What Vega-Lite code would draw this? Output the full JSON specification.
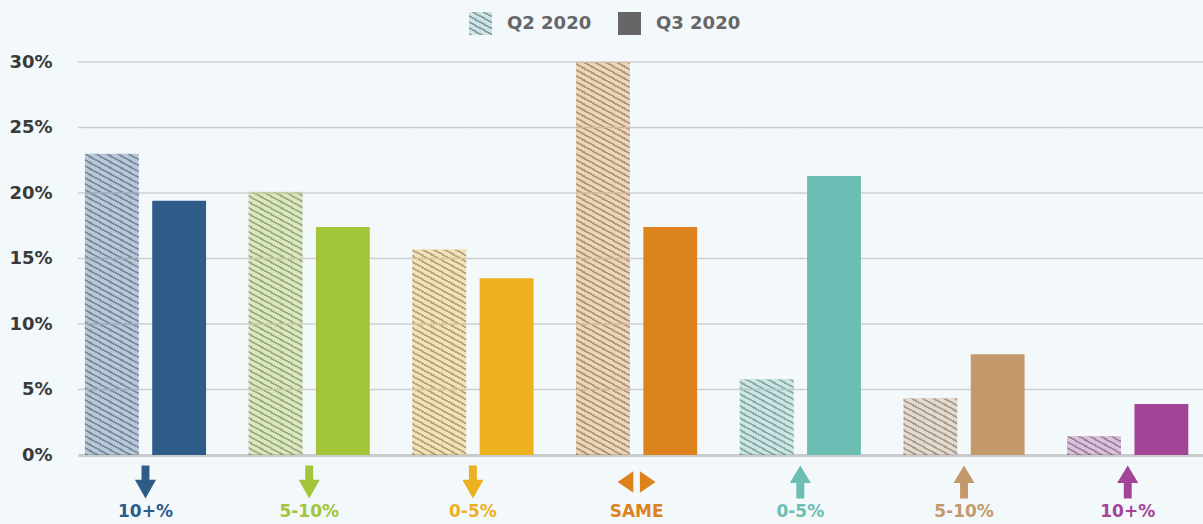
{
 "$schema": "https://vega.github.io/schema/vega-lite/v6.json",
 "width": 1125,
 "height": 393,
 "autosize": {"type": "none"},
 "padding": {"left": 78, "top": 62, "right": 0, "bottom": 69},
 "background": "#f3f8fb",
 "config": {
  "view": {"stroke": null},
  "axis": {"labelFont": "DejaVu Sans", "labelFontSize": 17, "labelFontWeight": "bold"}
 },
 "data": {"values": [
  {"cat": "d10", "quarter": "Q2 2020", "value": 23},
  {"cat": "d10", "quarter": "Q3 2020", "value": 19.4},
  {"cat": "d5", "quarter": "Q2 2020", "value": 20.1},
  {"cat": "d5", "quarter": "Q3 2020", "value": 17.4},
  {"cat": "d0", "quarter": "Q2 2020", "value": 15.7},
  {"cat": "d0", "quarter": "Q3 2020", "value": 13.5},
  {"cat": "same", "quarter": "Q2 2020", "value": 30},
  {"cat": "same", "quarter": "Q3 2020", "value": 17.4},
  {"cat": "u0", "quarter": "Q2 2020", "value": 5.8},
  {"cat": "u0", "quarter": "Q3 2020", "value": 21.3},
  {"cat": "u5", "quarter": "Q2 2020", "value": 4.35},
  {"cat": "u5", "quarter": "Q3 2020", "value": 7.7},
  {"cat": "u10", "quarter": "Q2 2020", "value": 1.45},
  {"cat": "u10", "quarter": "Q3 2020", "value": 3.9}
 ]},
 "layer": [
  {
   "transform": [{"filter": "datum.quarter == 'Q2 2020'"}],
   "mark": {"type": "bar", "fill": {"gradient": "linear", "x1": 0, "y1": 1, "x2": 0.1143, "y2": -0.5181, "stops": [
{"offset":0,"color":"#4447"},{"offset":0.0036,"color":"#4447"},{"offset":0.0036,"color":"#0000"},{"offset":0.01,"color":"#0000"},
{"offset":0.01,"color":"#4447"},{"offset":0.0136,"color":"#4447"},{"offset":0.0136,"color":"#0000"},{"offset":0.02,"color":"#0000"},
{"offset":0.02,"color":"#4447"},{"offset":0.0236,"color":"#4447"},{"offset":0.0236,"color":"#0000"},{"offset":0.03,"color":"#0000"},
{"offset":0.03,"color":"#4447"},{"offset":0.0336,"color":"#4447"},{"offset":0.0336,"color":"#0000"},{"offset":0.04,"color":"#0000"},
{"offset":0.04,"color":"#4447"},{"offset":0.0436,"color":"#4447"},{"offset":0.0436,"color":"#0000"},{"offset":0.05,"color":"#0000"},
{"offset":0.05,"color":"#4447"},{"offset":0.0536,"color":"#4447"},{"offset":0.0536,"color":"#0000"},{"offset":0.06,"color":"#0000"},
{"offset":0.06,"color":"#4447"},{"offset":0.0636,"color":"#4447"},{"offset":0.0636,"color":"#0000"},{"offset":0.07,"color":"#0000"},
{"offset":0.07,"color":"#4447"},{"offset":0.0736,"color":"#4447"},{"offset":0.0736,"color":"#0000"},{"offset":0.08,"color":"#0000"},
{"offset":0.08,"color":"#4447"},{"offset":0.0836,"color":"#4447"},{"offset":0.0836,"color":"#0000"},{"offset":0.09,"color":"#0000"},
{"offset":0.09,"color":"#4447"},{"offset":0.0936,"color":"#4447"},{"offset":0.0936,"color":"#0000"},{"offset":0.1,"color":"#0000"},
{"offset":0.1,"color":"#4447"},{"offset":0.1036,"color":"#4447"},{"offset":0.1036,"color":"#0000"},{"offset":0.11,"color":"#0000"},
{"offset":0.11,"color":"#4447"},{"offset":0.1136,"color":"#4447"},{"offset":0.1136,"color":"#0000"},{"offset":0.12,"color":"#0000"},
{"offset":0.12,"color":"#4447"},{"offset":0.1236,"color":"#4447"},{"offset":0.1236,"color":"#0000"},{"offset":0.13,"color":"#0000"},
{"offset":0.13,"color":"#4447"},{"offset":0.1336,"color":"#4447"},{"offset":0.1336,"color":"#0000"},{"offset":0.14,"color":"#0000"},
{"offset":0.14,"color":"#4447"},{"offset":0.1436,"color":"#4447"},{"offset":0.1436,"color":"#0000"},{"offset":0.15,"color":"#0000"},
{"offset":0.15,"color":"#4447"},{"offset":0.1536,"color":"#4447"},{"offset":0.1536,"color":"#0000"},{"offset":0.16,"color":"#0000"},
{"offset":0.16,"color":"#4447"},{"offset":0.1636,"color":"#4447"},{"offset":0.1636,"color":"#0000"},{"offset":0.17,"color":"#0000"},
{"offset":0.17,"color":"#4447"},{"offset":0.1736,"color":"#4447"},{"offset":0.1736,"color":"#0000"},{"offset":0.18,"color":"#0000"},
{"offset":0.18,"color":"#4447"},{"offset":0.1836,"color":"#4447"},{"offset":0.1836,"color":"#0000"},{"offset":0.19,"color":"#0000"},
{"offset":0.19,"color":"#4447"},{"offset":0.1936,"color":"#4447"},{"offset":0.1936,"color":"#0000"},{"offset":0.2,"color":"#0000"},
{"offset":0.2,"color":"#4447"},{"offset":0.2036,"color":"#4447"},{"offset":0.2036,"color":"#0000"},{"offset":0.21,"color":"#0000"},
{"offset":0.21,"color":"#4447"},{"offset":0.2136,"color":"#4447"},{"offset":0.2136,"color":"#0000"},{"offset":0.22,"color":"#0000"},
{"offset":0.22,"color":"#4447"},{"offset":0.2236,"color":"#4447"},{"offset":0.2236,"color":"#0000"},{"offset":0.23,"color":"#0000"},
{"offset":0.23,"color":"#4447"},{"offset":0.2336,"color":"#4447"},{"offset":0.2336,"color":"#0000"},{"offset":0.24,"color":"#0000"},
{"offset":0.24,"color":"#4447"},{"offset":0.2436,"color":"#4447"},{"offset":0.2436,"color":"#0000"},{"offset":0.25,"color":"#0000"},
{"offset":0.25,"color":"#4447"},{"offset":0.2536,"color":"#4447"},{"offset":0.2536,"color":"#0000"},{"offset":0.26,"color":"#0000"},
{"offset":0.26,"color":"#4447"},{"offset":0.2636,"color":"#4447"},{"offset":0.2636,"color":"#0000"},{"offset":0.27,"color":"#0000"},
{"offset":0.27,"color":"#4447"},{"offset":0.2736,"color":"#4447"},{"offset":0.2736,"color":"#0000"},{"offset":0.28,"color":"#0000"},
{"offset":0.28,"color":"#4447"},{"offset":0.2836,"color":"#4447"},{"offset":0.2836,"color":"#0000"},{"offset":0.29,"color":"#0000"},
{"offset":0.29,"color":"#4447"},{"offset":0.2936,"color":"#4447"},{"offset":0.2936,"color":"#0000"},{"offset":0.3,"color":"#0000"},
{"offset":0.3,"color":"#4447"},{"offset":0.3036,"color":"#4447"},{"offset":0.3036,"color":"#0000"},{"offset":0.31,"color":"#0000"},
{"offset":0.31,"color":"#4447"},{"offset":0.3136,"color":"#4447"},{"offset":0.3136,"color":"#0000"},{"offset":0.32,"color":"#0000"},
{"offset":0.32,"color":"#4447"},{"offset":0.3236,"color":"#4447"},{"offset":0.3236,"color":"#0000"},{"offset":0.33,"color":"#0000"},
{"offset":0.33,"color":"#4447"},{"offset":0.3336,"color":"#4447"},{"offset":0.3336,"color":"#0000"},{"offset":0.34,"color":"#0000"},
{"offset":0.34,"color":"#4447"},{"offset":0.3436,"color":"#4447"},{"offset":0.3436,"color":"#0000"},{"offset":0.35,"color":"#0000"},
{"offset":0.35,"color":"#4447"},{"offset":0.3536,"color":"#4447"},{"offset":0.3536,"color":"#0000"},{"offset":0.36,"color":"#0000"},
{"offset":0.36,"color":"#4447"},{"offset":0.3636,"color":"#4447"},{"offset":0.3636,"color":"#0000"},{"offset":0.37,"color":"#0000"},
{"offset":0.37,"color":"#4447"},{"offset":0.3736,"color":"#4447"},{"offset":0.3736,"color":"#0000"},{"offset":0.38,"color":"#0000"},
{"offset":0.38,"color":"#4447"},{"offset":0.3836,"color":"#4447"},{"offset":0.3836,"color":"#0000"},{"offset":0.39,"color":"#0000"},
{"offset":0.39,"color":"#4447"},{"offset":0.3936,"color":"#4447"},{"offset":0.3936,"color":"#0000"},{"offset":0.4,"color":"#0000"},
{"offset":0.4,"color":"#4447"},{"offset":0.4036,"color":"#4447"},{"offset":0.4036,"color":"#0000"},{"offset":0.41,"color":"#0000"},
{"offset":0.41,"color":"#4447"},{"offset":0.4136,"color":"#4447"},{"offset":0.4136,"color":"#0000"},{"offset":0.42,"color":"#0000"},
{"offset":0.42,"color":"#4447"},{"offset":0.4236,"color":"#4447"},{"offset":0.4236,"color":"#0000"},{"offset":0.43,"color":"#0000"},
{"offset":0.43,"color":"#4447"},{"offset":0.4336,"color":"#4447"},{"offset":0.4336,"color":"#0000"},{"offset":0.44,"color":"#0000"},
{"offset":0.44,"color":"#4447"},{"offset":0.4436,"color":"#4447"},{"offset":0.4436,"color":"#0000"},{"offset":0.45,"color":"#0000"},
{"offset":0.45,"color":"#4447"},{"offset":0.4536,"color":"#4447"},{"offset":0.4536,"color":"#0000"},{"offset":0.46,"color":"#0000"},
{"offset":0.46,"color":"#4447"},{"offset":0.4636,"color":"#4447"},{"offset":0.4636,"color":"#0000"},{"offset":0.47,"color":"#0000"},
{"offset":0.47,"color":"#4447"},{"offset":0.4736,"color":"#4447"},{"offset":0.4736,"color":"#0000"},{"offset":0.48,"color":"#0000"},
{"offset":0.48,"color":"#4447"},{"offset":0.4836,"color":"#4447"},{"offset":0.4836,"color":"#0000"},{"offset":0.49,"color":"#0000"},
{"offset":0.49,"color":"#4447"},{"offset":0.4936,"color":"#4447"},{"offset":0.4936,"color":"#0000"},{"offset":0.5,"color":"#0000"},
{"offset":0.5,"color":"#4447"},{"offset":0.5036,"color":"#4447"},{"offset":0.5036,"color":"#0000"},{"offset":0.51,"color":"#0000"},
{"offset":0.51,"color":"#4447"},{"offset":0.5136,"color":"#4447"},{"offset":0.5136,"color":"#0000"},{"offset":0.52,"color":"#0000"},
{"offset":0.52,"color":"#4447"},{"offset":0.5236,"color":"#4447"},{"offset":0.5236,"color":"#0000"},{"offset":0.53,"color":"#0000"},
{"offset":0.53,"color":"#4447"},{"offset":0.5336,"color":"#4447"},{"offset":0.5336,"color":"#0000"},{"offset":0.54,"color":"#0000"},
{"offset":0.54,"color":"#4447"},{"offset":0.5436,"color":"#4447"},{"offset":0.5436,"color":"#0000"},{"offset":0.55,"color":"#0000"},
{"offset":0.55,"color":"#4447"},{"offset":0.5536,"color":"#4447"},{"offset":0.5536,"color":"#0000"},{"offset":0.56,"color":"#0000"},
{"offset":0.56,"color":"#4447"},{"offset":0.5636,"color":"#4447"},{"offset":0.5636,"color":"#0000"},{"offset":0.57,"color":"#0000"},
{"offset":0.57,"color":"#4447"},{"offset":0.5736,"color":"#4447"},{"offset":0.5736,"color":"#0000"},{"offset":0.58,"color":"#0000"},
{"offset":0.58,"color":"#4447"},{"offset":0.5836,"color":"#4447"},{"offset":0.5836,"color":"#0000"},{"offset":0.59,"color":"#0000"},
{"offset":0.59,"color":"#4447"},{"offset":0.5936,"color":"#4447"},{"offset":0.5936,"color":"#0000"},{"offset":0.6,"color":"#0000"},
{"offset":0.6,"color":"#4447"},{"offset":0.6036,"color":"#4447"},{"offset":0.6036,"color":"#0000"},{"offset":0.61,"color":"#0000"},
{"offset":0.61,"color":"#4447"},{"offset":0.6136,"color":"#4447"},{"offset":0.6136,"color":"#0000"},{"offset":0.62,"color":"#0000"},
{"offset":0.62,"color":"#4447"},{"offset":0.6236,"color":"#4447"},{"offset":0.6236,"color":"#0000"},{"offset":0.63,"color":"#0000"},
{"offset":0.63,"color":"#4447"},{"offset":0.6336,"color":"#4447"},{"offset":0.6336,"color":"#0000"},{"offset":0.64,"color":"#0000"},
{"offset":0.64,"color":"#4447"},{"offset":0.6436,"color":"#4447"},{"offset":0.6436,"color":"#0000"},{"offset":0.65,"color":"#0000"},
{"offset":0.65,"color":"#4447"},{"offset":0.6536,"color":"#4447"},{"offset":0.6536,"color":"#0000"},{"offset":0.66,"color":"#0000"},
{"offset":0.66,"color":"#4447"},{"offset":0.6636,"color":"#4447"},{"offset":0.6636,"color":"#0000"},{"offset":0.67,"color":"#0000"},
{"offset":0.67,"color":"#4447"},{"offset":0.6736,"color":"#4447"},{"offset":0.6736,"color":"#0000"},{"offset":0.68,"color":"#0000"},
{"offset":0.68,"color":"#4447"},{"offset":0.6836,"color":"#4447"},{"offset":0.6836,"color":"#0000"},{"offset":0.69,"color":"#0000"},
{"offset":0.69,"color":"#4447"},{"offset":0.6936,"color":"#4447"},{"offset":0.6936,"color":"#0000"},{"offset":0.7,"color":"#0000"},
{"offset":0.7,"color":"#4447"},{"offset":0.7036,"color":"#4447"},{"offset":0.7036,"color":"#0000"},{"offset":0.71,"color":"#0000"}
   ]}},
   "encoding": {
    "x": {"field": "cat", "type": "nominal", "title": null, "scale": {"type": "band", "domain": ["d10", "d5", "d0", "same", "u0", "u5", "u10"], "paddingInner": 0.26, "paddingOuter": 0.066, "align": 0.32},
     "axis": {"title": null, "ticks": false, "grid": false, "domain": true, "domainColor": "#c8cacc", "domainWidth": 3, "labelPadding": 48, "labelAngle": 0, "labelFontSize": 17,
      "labelExpr": "datum.value == 'd10' || datum.value == 'u10' ? '10+%' : datum.value == 'd5' || datum.value == 'u5' ? '5-10%' : datum.value == 'd0' || datum.value == 'u0' ? '0-5%' : 'SAME'",
      "labelColor": {"condition": [
        {"test": "datum.value == 'd10'", "value": "#2f5b88"},
        {"test": "datum.value == 'd5'", "value": "#a2c539"},
        {"test": "datum.value == 'd0'", "value": "#edb01e"},
        {"test": "datum.value == 'same'", "value": "#dd831e"},
        {"test": "datum.value == 'u0'", "value": "#6cbdb3"},
        {"test": "datum.value == 'u5'", "value": "#c3996b"}
       ], "value": "#a24597"}}},
    "xOffset": {"field": "quarter", "type": "nominal", "scale": {"domain": ["Q2 2020", "Q3 2020"], "paddingInner": 0.2, "paddingOuter": 0}},
    "y": {"datum": 30, "type": "quantitative", "title": null, "scale": {"domain": [0, 30], "nice": false},
     "axis": {"title": null, "domain": false, "ticks": false, "grid": false, "values": [0, 5, 10, 15, 20, 25, 30], "labelExpr": "datum.value + '%'", "labelPadding": 26, "labelColor": "#3a3a3a", "labelFontSize": 18}}
   }
  },
  {
   "transform": [{"filter": "datum.quarter == 'Q2 2020'"}],
   "mark": {"type": "bar", "fill": "#f3f8fb", "stroke": "#f3f8fb", "strokeWidth": 1},
   "encoding": {
    "x": {"field": "cat", "type": "nominal", "title": null, "scale": {"type": "band", "domain": ["d10", "d5", "d0", "same", "u0", "u5", "u10"], "paddingInner": 0.26, "paddingOuter": 0.066, "align": 0.32}},
    "xOffset": {"field": "quarter", "type": "nominal", "scale": {"domain": ["Q2 2020", "Q3 2020"], "paddingInner": 0.2, "paddingOuter": 0}},
    "y": {"field": "value", "type": "quantitative", "title": null, "scale": {"domain": [0, 30], "nice": false}},
    "y2": {"datum": 30}
   }
  },
  {
   "data": {"values": [{"g": 5}, {"g": 10}, {"g": 15}, {"g": 20}, {"g": 25}, {"g": 30}]},
   "mark": {"type": "rule", "color": "#cdd0d3", "strokeWidth": 1.5},
   "encoding": {
    "y": {"field": "g", "type": "quantitative", "title": null, "scale": {"domain": [0, 30], "nice": false}}
   }
  },
  {
   "transform": [{"filter": "datum.quarter == 'Q2 2020'"}],
   "mark": {"type": "bar", "fillOpacity": 0.3},
   "encoding": {
    "x": {"field": "cat", "type": "nominal", "title": null, "scale": {"type": "band", "domain": ["d10", "d5", "d0", "same", "u0", "u5", "u10"], "paddingInner": 0.26, "paddingOuter": 0.066, "align": 0.32}},
    "xOffset": {"field": "quarter", "type": "nominal", "scale": {"domain": ["Q2 2020", "Q3 2020"], "paddingInner": 0.2, "paddingOuter": 0}},
    "y": {"field": "value", "type": "quantitative", "title": null, "scale": {"domain": [0, 30], "nice": false}},
    "color": {"field": "cat", "type": "nominal", "legend": null, "scale": {"domain": ["d10", "d5", "d0", "same", "u0", "u5", "u10"], "range": ["#2f5b88", "#a2c539", "#edb01e", "#dd831e", "#6cbdb3", "#c3996b", "#a24597"]}}
   }
  },
  {
   "transform": [{"filter": "datum.quarter == 'Q3 2020'"}],
   "mark": {"type": "bar"},
   "encoding": {
    "x": {"field": "cat", "type": "nominal", "title": null, "scale": {"type": "band", "domain": ["d10", "d5", "d0", "same", "u0", "u5", "u10"], "paddingInner": 0.26, "paddingOuter": 0.066, "align": 0.32}},
    "xOffset": {"field": "quarter", "type": "nominal", "scale": {"domain": ["Q2 2020", "Q3 2020"], "paddingInner": 0.2, "paddingOuter": 0}},
    "y": {"field": "value", "type": "quantitative", "title": null, "scale": {"domain": [0, 30], "nice": false}},
    "color": {"field": "cat", "type": "nominal", "legend": null, "scale": {"domain": ["d10", "d5", "d0", "same", "u0", "u5", "u10"], "range": ["#2f5b88", "#a2c539", "#edb01e", "#dd831e", "#6cbdb3", "#c3996b", "#a24597"]}},
    "opacity": {"field": "quarter", "type": "ordinal", "scale": {"domain": ["Q2 2020", "Q3 2020"], "range": [1, 1]},
     "legend": {"title": null, "orient": "none", "legendX": 391, "legendY": -50, "direction": "horizontal", "symbolType": "square", "symbolSize": 529, "symbolStrokeWidth": 0, "symbolOpacity": 1, "labelOffset": 15, "columnPadding": 26, "labelFontSize": 18, "labelColor": "#666666", "labelFont": "DejaVu Sans", "labelFontWeight": "bold", "padding": 0,
      "symbolFillColor": {"expr": "datum.value == 'Q2 2020' ? {gradient: 'linear', x1: 0, y1: 1, x2: 1.1016, y2: -1.0029, stops: [{offset: 0, color: '#8d9fa2'}, {offset: 0.035, color: '#8d9fa2'}, {offset: 0.035, color: '#cbe4e6'}, {offset: 0.1, color: '#cbe4e6'}, {offset: 0.1, color: '#8d9fa2'}, {offset: 0.135, color: '#8d9fa2'}, {offset: 0.135, color: '#cbe4e6'}, {offset: 0.2, color: '#cbe4e6'}, {offset: 0.2, color: '#8d9fa2'}, {offset: 0.235, color: '#8d9fa2'}, {offset: 0.235, color: '#cbe4e6'}, {offset: 0.3, color: '#cbe4e6'}, {offset: 0.3, color: '#8d9fa2'}, {offset: 0.335, color: '#8d9fa2'}, {offset: 0.335, color: '#cbe4e6'}, {offset: 0.4, color: '#cbe4e6'}, {offset: 0.4, color: '#8d9fa2'}, {offset: 0.435, color: '#8d9fa2'}, {offset: 0.435, color: '#cbe4e6'}, {offset: 0.5, color: '#cbe4e6'}, {offset: 0.5, color: '#8d9fa2'}, {offset: 0.535, color: '#8d9fa2'}, {offset: 0.535, color: '#cbe4e6'}, {offset: 0.6, color: '#cbe4e6'}]} : '#666666'"}
     }
    }
   }
  },
  {
   "transform": [{"filter": "datum.quarter == 'Q3 2020'"}],
   "mark": {"type": "point", "filled": true, "size": 1089, "opacity": 1, "strokeWidth": 0},
   "encoding": {
    "x": {"field": "cat", "type": "nominal", "title": null, "scale": {"type": "band", "domain": ["d10", "d5", "d0", "same", "u0", "u5", "u10"], "paddingInner": 0.26, "paddingOuter": 0.066, "align": 0.32}},
    "y": {"datum": -2.06, "type": "quantitative", "title": null, "scale": {"domain": [0, 30], "nice": false}},
    "color": {"field": "cat", "type": "nominal", "legend": null, "scale": {"domain": ["d10", "d5", "d0", "same", "u0", "u5", "u10"], "range": ["#2f5b88", "#a2c539", "#edb01e", "#dd831e", "#6cbdb3", "#c3996b", "#a24597"]}},
    "shape": {"field": "cat", "type": "nominal", "legend": null, "scale": {"domain": ["d10", "d5", "d0", "same", "u0", "u5", "u10"], "range": [
     "M-0.24,-1L0.24,-1L0.24,-0.13L0.64,-0.13L0,1L-0.64,-0.13L-0.24,-0.13Z",
     "M-0.24,-1L0.24,-1L0.24,-0.13L0.64,-0.13L0,1L-0.64,-0.13L-0.24,-0.13Z",
     "M-0.24,-1L0.24,-1L0.24,-0.13L0.64,-0.13L0,1L-0.64,-0.13L-0.24,-0.13Z",
     "M-0.2,-0.65L-0.2,0.65L-1.15,0ZM0.2,-0.65L1.15,0L0.2,0.65Z",
     "M-0.24,1L0.24,1L0.24,0.06L0.64,0.06L0,-1L-0.64,0.06L-0.24,0.06Z",
     "M-0.24,1L0.24,1L0.24,0.06L0.64,0.06L0,-1L-0.64,0.06L-0.24,0.06Z",
     "M-0.24,1L0.24,1L0.24,0.06L0.64,0.06L0,-1L-0.64,0.06L-0.24,0.06Z"
    ]}}
   }
  }
 ]
}
